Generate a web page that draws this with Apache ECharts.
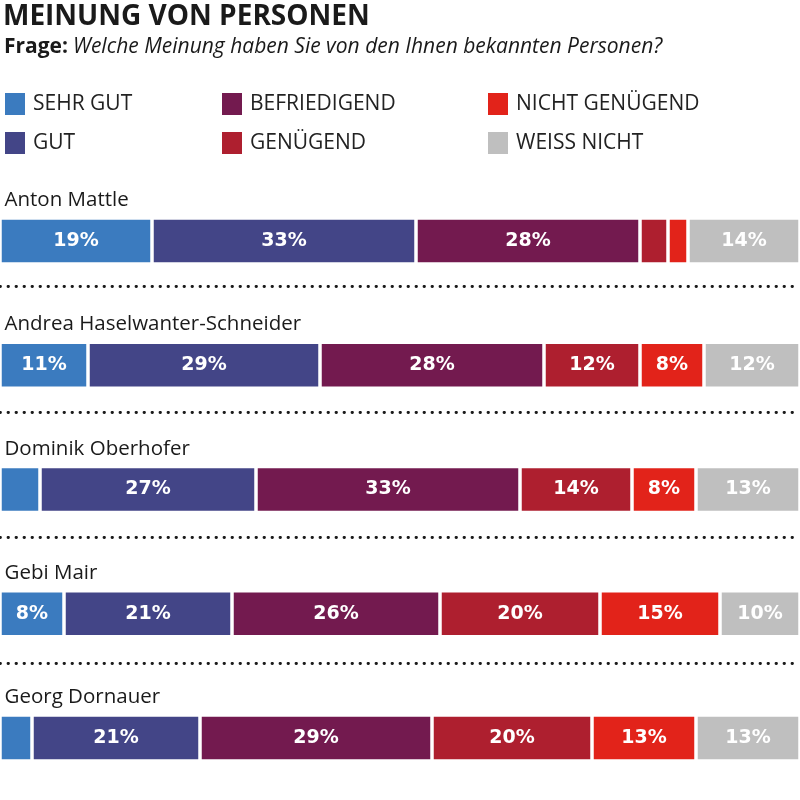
<!DOCTYPE html>
<html>
<head>
<meta charset="utf-8">
<script src="https://cdn.jsdelivr.net/npm/echarts@6/dist/echarts.min.js"></script>
<style>html,body{margin:0;padding:0;background:#fff}#c{width:800px;height:800px}</style>
</head>
<body>
<div id="c"></div>
<script>
const names = ['Anton Mattle','Andrea Haselwanter-Schneider','Dominik Oberhofer','Gebi Mair','Georg Dornauer'];
const categories = ['SEHR GUT','GUT','BEFRIEDIGEND','GENÜGEND','NICHT GENÜGEND','WEISS NICHT'];
const sehrGut = [19, 11, 5, 8, 4];
const gut = [33, 29, 27, 21, 21];
const befriedigend = [28, 28, 33, 26, 29];
const genuegend = [3.5, 12, 14, 20, 20];
const nichtGenuegend = [2.5, 8, 8, 15, 13];
const weissNicht = [14, 12, 13, 10, 13];

const colors = ['#3b7bbf','#434587','#731a4f','#ae1f2f','#e2231a','#bfbfbf'];
const seriesData = [sehrGut, gut, befriedigend, genuegend, nichtGenuegend, weissNicht];

const chart = echarts.init(document.getElementById('c'), null, {renderer:'canvas'});
const legendText = {fontSize: 21, fontFamily: "'Liberation Sans Narrow','Open Sans',sans-serif", color: '#222', padding:[0,0,0,3]};
function mkLegend(items, left){
  return {data: items, orient:'vertical', left:left, top:93, itemGap:17, itemWidth:20, itemHeight:22,
    icon:'rect', padding:0, selectedMode:false, textStyle: legendText,
    itemStyle:{borderWidth:0}};
}
const option = {
  animation:false,
  color: colors,
  title: [
    {text:'MEINUNG VON PERSONEN', left:3, top:3, padding:0,
     textStyle:{fontSize:28, fontWeight:'bold', fontFamily:"'Open Sans',sans-serif", color:'#1a1a1a'}},
    {text:'{b|Frage:} {i|Welche Meinung haben Sie von den Ihnen bekannten Personen?}', left:4, top:37, padding:0,
     textStyle:{rich:{
       b:{fontSize:21, fontWeight:'bold', fontFamily:"'Open Sans',sans-serif", color:'#1a1a1a'},
       i:{fontSize:21, fontWeight:'normal', fontStyle:'italic', fontFamily:"'Open Sans',sans-serif", color:'#1a1a1a'}
     }}}
  ],
  legend: [
    mkLegend([categories[0], categories[1]], 5),
    mkLegend([categories[2], categories[3]], 222),
    mkLegend([categories[4], categories[5]], 488)
  ],
  grid: [
    {left:-3.5, right:-3.5, top:178.75, height:627.5, containLabel:false},
    {left:0, right:0, top:286.5, height:376.5, containLabel:false}
  ],
  xAxis: [
    {gridIndex:0, type:'value', min:0, max:100, show:false},
    {gridIndex:1, type:'value', min:0, max:1, show:false}
  ],
  yAxis: [
    {gridIndex:0, type:'category', data:names, inverse:true,
     axisLine:{show:false}, axisTick:{show:false}, splitLine:{show:false},
     axisLabel:{inside:true, margin:4.5, fontSize:20.5, color:'#1a1a1a', fontFamily:"'Open Sans',sans-serif",
       verticalAlign:'bottom', padding:[0,0,30,0]}},
    {gridIndex:1, type:'value', min:0, max:3, interval:1,
     axisLine:{show:false}, axisTick:{show:false}, axisLabel:{show:false},
     splitLine:{show:true, lineStyle:{color:'#1a1a1a', type:[0.5,7.5], width:2.8, cap:'round'}}}
  ],
  series: categories.map((name, i) => ({
    name: name, type:'bar', stack:'total', xAxisIndex:0, yAxisIndex:0,
    data: seriesData[i], barWidth:46,
    itemStyle:{color: colors[i], borderColor:'#fff', borderWidth:1.75},
    label:{show:true, position:'inside', color:'#fff', fontSize:19, fontWeight:'bold',
      fontFamily:"'DejaVu Sans',sans-serif",
      formatter: p => p.value >= 8 ? p.value + '%' : ''}
  }))
};
chart.setOption(option);
</script>
</body>
</html>
